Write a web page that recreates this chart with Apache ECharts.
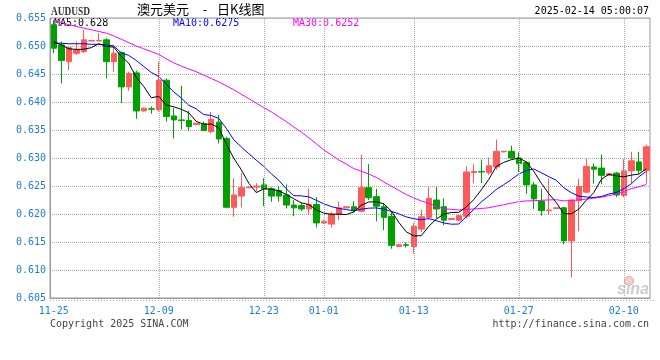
<!DOCTYPE html>
<html><head><meta charset="utf-8">
<script src="https://cdn.jsdelivr.net/npm/echarts@6/dist/echarts.min.js"></script>
<style>html,body{margin:0;padding:0;background:#fff}#c{width:660px;height:360px}</style>
</head><body><div id="c"></div>
<script>
const dates = ['11-25','11-26','11-27','11-28','11-29','11-30',
'12-01','12-02','12-03','12-04','12-05','12-06','12-07','12-08','12-09','12-10','12-11','12-12','12-13','12-14','12-15','12-16','12-17','12-18','12-19','12-20','12-21','12-22','12-23','12-24','12-26','12-27','12-28','12-29','12-30','12-31',
'01-01','01-02','01-03','01-04','01-05','01-06','01-07','01-08','01-09','01-10','01-11','01-12','01-13','01-14','01-15','01-16','01-17','01-18','01-19','01-20','01-21','01-22','01-23','01-24','01-25','01-26','01-27','01-28','01-29','01-30','01-31',
'02-01','02-02','02-03','02-04','02-05','02-06','02-07','02-08','02-09','02-10','02-11','02-12','02-13'];
const opens = [0.6538,0.6502,0.6472,0.6487,0.6490,0.6509,0.6509,0.6511,0.6472,0.6488,
0.6427,0.6452,0.6384,0.6388,0.6386,0.6439,0.6375,0.6368,0.6367,0.6360,
0.6361,0.6347,0.6364,0.6335,0.6212,0.6232,0.6247,0.6248,0.6252,0.6245,
0.6242,0.6234,0.6216,0.6215,0.6209,0.6217,0.6184,0.6182,0.6199,0.6211,
0.6213,0.6205,0.6247,0.6231,0.6213,0.6196,0.6142,0.6145,0.6142,0.6173,
0.6194,0.6225,0.6213,0.6190,0.6189,0.6196,0.6274,0.6276,0.6274,0.6284,
0.6311,0.6312,0.6300,0.6292,0.6252,0.6223,0.6206,0.6210,0.6211,0.6152,
0.6224,0.6239,0.6284,0.6282,0.6269,0.6273,0.6233,0.6277,0.6293,0.6278];
const highs = [0.6546,0.6508,0.6499,0.6508,0.6529,0.6510,0.6523,0.6514,0.6502,0.6490,
0.6454,0.6456,0.6390,0.6392,0.6472,0.6442,0.6389,0.6429,0.6384,0.6362,
0.6365,0.6382,0.6377,0.6338,0.6264,0.6273,0.6249,0.6255,0.6264,0.6248,
0.6250,0.6253,0.6225,0.6220,0.6245,0.6230,0.6190,0.6204,0.6222,0.6213,
0.6223,0.6306,0.6289,0.6245,0.6219,0.6204,0.6146,0.6149,0.6184,0.6208,
0.6248,0.6248,0.6228,0.6192,0.6199,0.6285,0.6289,0.6297,0.6301,0.6333,
0.6312,0.6322,0.6310,0.6294,0.6257,0.6245,0.6263,0.6212,0.6212,0.6226,
0.6263,0.6299,0.6290,0.6306,0.6272,0.6275,0.6298,0.6311,0.6311,0.6324];
const lows = [0.6487,0.6433,0.6457,0.6484,0.6487,0.6508,0.6509,0.6442,0.6454,0.6398,
0.6420,0.6370,0.6383,0.6379,0.6383,0.6365,0.6335,0.6351,0.6349,0.6359,
0.6348,0.6344,0.6326,0.6210,0.6195,0.6212,0.6246,0.6240,0.6214,0.6222,
0.6222,0.6210,0.6196,0.6205,0.6198,0.6176,0.6182,0.6176,0.6189,0.6210,
0.6203,0.6203,0.6225,0.6187,0.6171,0.6138,0.6141,0.6140,0.6129,0.6168,
0.6190,0.6192,0.6180,0.6189,0.6187,0.6192,0.6255,0.6255,0.6270,0.6279,
0.6310,0.6299,0.6275,0.6236,0.6209,0.6197,0.6199,0.6209,0.6146,0.6087,
0.6169,0.6237,0.6254,0.6253,0.6268,0.6230,0.6230,0.6254,0.6272,0.6254];
const closes = [0.6496,0.6474,0.6497,0.6493,0.6511,0.6510,0.6510,0.6472,0.6487,0.6427,
0.6451,0.6384,0.6389,0.6387,0.6439,0.6374,0.6368,0.6367,0.6356,0.6362,
0.6349,0.6369,0.6334,0.6212,0.6234,0.6247,0.6248,0.6250,0.6245,0.6232,
0.6232,0.6216,0.6211,0.6209,0.6217,0.6184,0.6187,0.6200,0.6211,0.6213,
0.6207,0.6247,0.6229,0.6214,0.6194,0.6144,0.6145,0.6144,0.6178,0.6195,
0.6228,0.6209,0.6189,0.6192,0.6197,0.6275,0.6276,0.6275,0.6286,0.6312,
0.6312,0.6300,0.6290,0.6252,0.6227,0.6206,0.6207,0.6211,0.6152,0.6225,
0.6249,0.6285,0.6280,0.6269,0.6272,0.6234,0.6277,0.6295,0.6278,0.6320];
// moving-average values for the bars whose history lies before the window
const ma5Head = [0.6508,0.6502,0.6495,0.6494];
const ma10Head = [0.6505,0.6505,0.6504,0.6504,0.6504,0.6503,0.6503,0.6502,0.6500];
const ma30Head = [0.6545,0.6542,0.6538,0.6535,0.6532,0.6529,0.6526,0.6523,0.6518,0.6512,
0.6506,0.6500,0.6495,0.6490,0.6485,0.6477,0.6470,0.6464,0.6459,0.6454,
0.6448,0.6442,0.6436,0.6429,0.6422,0.6414,0.6406,0.6398,0.6390];
const xLabels = ['11-25','12-09','12-23','01-01','01-13','01-27','02-10'];
const legendTexts = ['MA5:0.628','MA10:0.6275','MA30:0.6252'];

function movingAvg(n, head){
  return closes.map((c,i)=>{
    if(i < n-1) return head[i];
    let s=0; for(let k=i-n+1;k<=i;k++) s+=closes[k];
    return +(s/n).toFixed(5);
  });
}
const kData = dates.map((d,i)=>[opens[i],closes[i],lows[i],highs[i]]);
const RED='#ff5a5a', GREEN='#00a000', BLUE_TXT='#1c7fd6', MONO='DejaVu Sans Mono';

const chart = echarts.init(document.getElementById('c'), null, {renderer:'canvas'});
chart.setOption({
  animation:false,
  backgroundColor:'#fff',
  grid:{left:50,right:10,top:18,bottom:62,show:true,borderColor:'#999',borderWidth:1,containLabel:false},
  xAxis:{type:'category',data:dates,boundaryGap:true,
    axisLine:{show:true,lineStyle:{color:'#999'}},axisTick:{show:false},splitLine:{show:false},
    axisLabel:{interval:(i,v)=>xLabels.indexOf(v)>=0,color:BLUE_TXT,fontFamily:MONO,fontSize:10,margin:8}},
  yAxis:{type:'value',min:0.605,max:0.655,interval:0.005,
    axisLine:{show:true,lineStyle:{color:'#999'}},axisTick:{show:false},
    splitLine:{show:true,lineStyle:{color:'#aaa',type:'dotted',width:1}},
    axisLabel:{formatter:v=>v.toFixed(3),color:BLUE_TXT,fontFamily:MONO,fontSize:10,margin:4}},
  series:[
    {type:'line',data:dates.map(()=>null),z:1,silent:true,
      markLine:{symbol:'none',silent:true,animation:false,label:{show:false},
        lineStyle:{color:'#aaa',type:'dotted',width:1},
        data:xLabels.slice(1).map(d=>({xAxis:d}))}},
    {type:'candlestick',data:kData,barWidth:6,z:2,
      itemStyle:{color:RED,color0:GREEN,borderColor:RED,borderColor0:GREEN,borderWidth:1}},
    {type:'line',data:movingAvg(30,ma30Head),showSymbol:false,z:3,lineStyle:{color:'#ff00ff',width:1}},
    {type:'line',data:movingAvg(10,ma10Head),showSymbol:false,z:4,lineStyle:{color:'#0000ff',width:1}},
    {type:'line',data:movingAvg(5,ma5Head),showSymbol:false,z:5,lineStyle:{color:'#000',width:1}}
  ],
  graphic:[
    {type:'text',left:51,top:6,scaleX:0.78,style:{text:'AUDUSD',font:'bold 12px "Liberation Serif"',fill:'#333'}},
    {type:'text',x:137,y:9,style:{text:'澳元美元',font:'13px "Noto Sans CJK SC"',fill:'#000',verticalAlign:'middle'}},
    {type:'text',x:205,y:9,style:{text:'-',font:'13px "Noto Sans CJK SC"',fill:'#000',align:'center',verticalAlign:'middle'}},
    {type:'text',x:217,y:9,style:{text:'日K线图',font:'13px "Noto Sans CJK SC"',fill:'#000',verticalAlign:'middle'}},
    {type:'text',x:649,y:11.5,style:{text:'2025-02-14 05:00:07',font:'10px "DejaVu Sans Mono"',fill:'#000',align:'right',verticalAlign:'middle'}},
    {type:'text',x:54,y:23.5,style:{text:legendTexts[0],font:'10px "DejaVu Sans Mono"',fill:'#000',verticalAlign:'middle'}},
    {type:'text',x:173,y:23.5,style:{text:legendTexts[1],font:'10px "DejaVu Sans Mono"',fill:'#0000ff',verticalAlign:'middle'}},
    {type:'text',x:293,y:23.5,style:{text:legendTexts[2],font:'10px "DejaVu Sans Mono"',fill:'#ff00ff',verticalAlign:'middle'}},
    {type:'text',x:50,y:324,style:{text:'Copyright 2025 SINA.COM',font:'10px "DejaVu Sans Mono"',fill:'#444',verticalAlign:'middle'}},
    {type:'text',x:649,y:324,style:{text:'http://finance.sina.com.cn',font:'10px "DejaVu Sans Mono"',fill:'#444',align:'right',verticalAlign:'middle'}},
    {type:'line',shape:{x1:50,y1:300.5,x2:655,y2:300.5},style:{stroke:'#aaa',lineDash:[1,2],lineWidth:1}},
    {type:'circle',shape:{cx:629,cy:281,r:4.5},style:{fill:'#f6d0d0',stroke:'#eaa0a0',lineWidth:1}},
    {type:'text',x:633,y:290,style:{text:'sina',font:'italic bold 16px "Liberation Sans"',fill:'#cccccc',align:'center',verticalAlign:'middle'}}
  ]
});
</script></body></html>
